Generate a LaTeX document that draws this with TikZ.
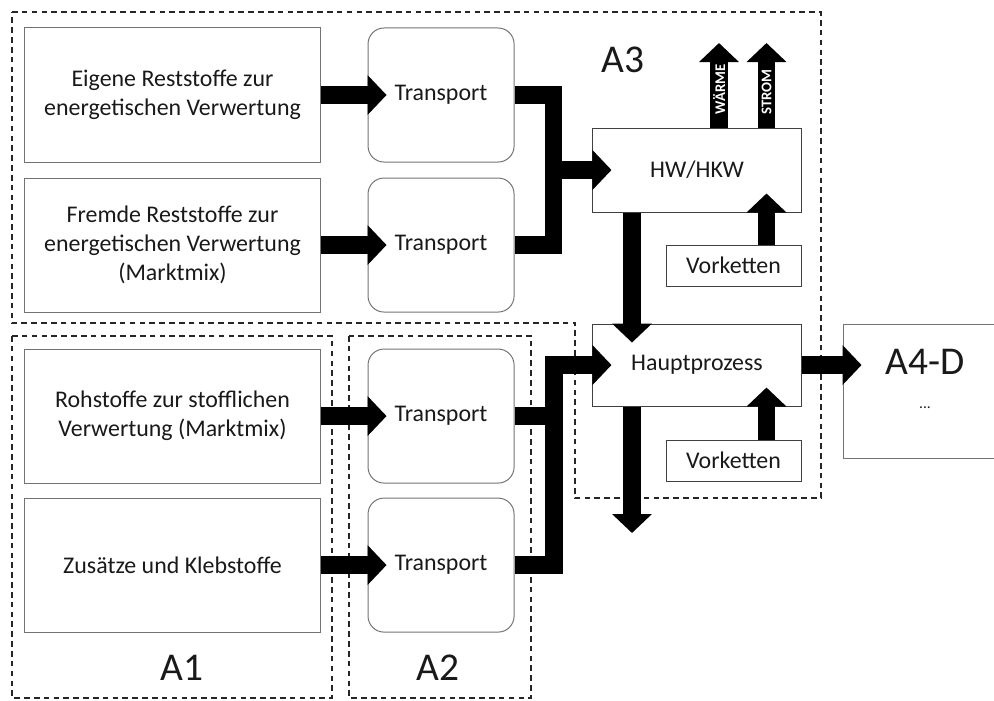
\documentclass[tikz,border=0pt]{standalone}
\usepackage{fontspec}
\setmainfont{Carlito}
\usetikzlibrary{positioning,arrows.meta}
\tikzstyle{source} = [rectangle, minimum width=7.375cm, minimum height=3.35cm, align=center, draw=black!55, line width=0.7pt]
\tikzstyle{transport} = [rectangle, rounded corners=0.4cm, minimum width=3.65cm, minimum height=3.35cm, draw=black!55, line width=0.7pt]
\tikzstyle{process} = [rectangle, minimum width=5.2cm, minimum height=2.1cm, draw=black!75, line width=0.7pt]
\tikzstyle{prechain} = [rectangle, minimum width=3.375cm, minimum height=1.025cm, draw=black!75, line width=0.7pt]
\tikzstyle{area} = [dash pattern=on 4pt off 3pt, line width=0.9pt, draw=black!85]
\tikzstyle{areaname} = [font=\fontsize{28}{30}\selectfont]
\tikzstyle{arrow} = [line width=0.44cm, -{Triangle[width=0.97cm,length=0.475cm]}, line join=miter]
\tikzstyle{arrowin} = [arrow, shorten >=-0.475cm]
\tikzstyle{pipe} = [line width=0.44cm, line join=miter]
\tikzstyle{energy} = [text=white, font=\fontsize{10.5}{11}\selectfont\bfseries, sloped, inner sep=0pt]

\begin{document}
\begin{tikzpicture}[x=0.025cm, y=-0.025cm, font=\fontsize{17}{20.5}\selectfont, text=black!90]
\useasboundingbox (0,0) rectangle (994,700);

% areas
\draw[area] (12,12) -- (821,12) -- (821,498) -- (575,498) -- (575,323) -- (12,323) -- cycle;
\draw[area] (12,336) rectangle (332,698);
\draw[area] (349,336) rectangle (531,698);
\node (labA3) [areaname] at (623,60) {A3};
\node (labA1) [areaname] at (182,668) {A1};
\node (labA2) [areaname] at (438,668) {A2};

% inputs
\node (src1) [source] at (172.5,95) {Eigene Reststoffe zur\\energetischen Verwertung};
\node (src2) [source, below=0.375cm of src1] {Fremde Reststoffe zur\\energetischen Verwertung\\(Marktmix)};
\node (src3) [source, below=0.9cm of src2] {Rohstoffe zur stofflichen\\Verwertung (Marktmix)};
\node (src4) [source, below=0.35cm of src3] {Zusätze und Klebstoffe};
\foreach \i in {1,...,4}
  \node (tr\i) [transport, right=1.175cm of src\i] {Transport};

% processes
\node (hw) [process] at (697,170) {HW/HKW};
\node (haupt) [process, minimum height=2.05cm, below=2.775cm of hw] {Hauptprozess};
\node (vk1) [prechain, below=0.8cm of hw.south east, anchor=north east] {Vorketten};
\node (vk2) [prechain, below=0.825cm of haupt.south east, anchor=north east] {Vorketten};
\node (a4d) [rectangle, minimum width=5cm, minimum height=3.35cm, draw=black!55, line width=0.7pt, right=1.025cm of haupt.north east, anchor=north west] {};
\node (labA4) [areaname] at (925,362) {A4-D};
\node (dots) [font=\fontsize{11}{12}\selectfont] at (925,408) {...};

% flows
\coordinate (join1) at (553.5,0);
\coordinate (join2) at (554,0);
\coordinate (drop) at (632,0);
\coordinate (feed) at (766.5,0);
\coordinate (heat) at (719,43);
\coordinate (power) at (766.5,43);
\coordinate (out) at (632,533);

\foreach \i in {1,...,4}
  \draw[arrowin] (src\i) -- (tr\i);
\draw[pipe] (tr1.east) -- (join1 |- tr1.east) -- (join1 |- tr2.east) -- (tr2.east);
\draw[arrowin] (join1 |- hw.west) -- (hw.west);
\draw[pipe] (tr3.east) -- (join2 |- tr3.east);
\draw[arrowin] (tr4.east) -- (join2 |- tr4.east) -- (join2 |- haupt.west) -- (haupt.west);
\draw[arrowin] (drop |- hw.south) -- (drop |- haupt.north);
\draw[arrow] (drop |- haupt.south) -- (out);
\draw[arrowin] (feed |- vk1.north) -- (feed |- hw.south);
\draw[arrowin] (feed |- vk2.north) -- (feed |- haupt.south);
\draw[arrowin] (haupt.east) -- (haupt.east -| a4d.west);
\draw[arrow] (heat |- hw.north) -- node[energy, pos=0.45] {WÄRME} (heat);
\draw[arrow] (power |- hw.north) -- node[energy, pos=0.42] {STROM} (power);
\end{tikzpicture}
\end{document}
